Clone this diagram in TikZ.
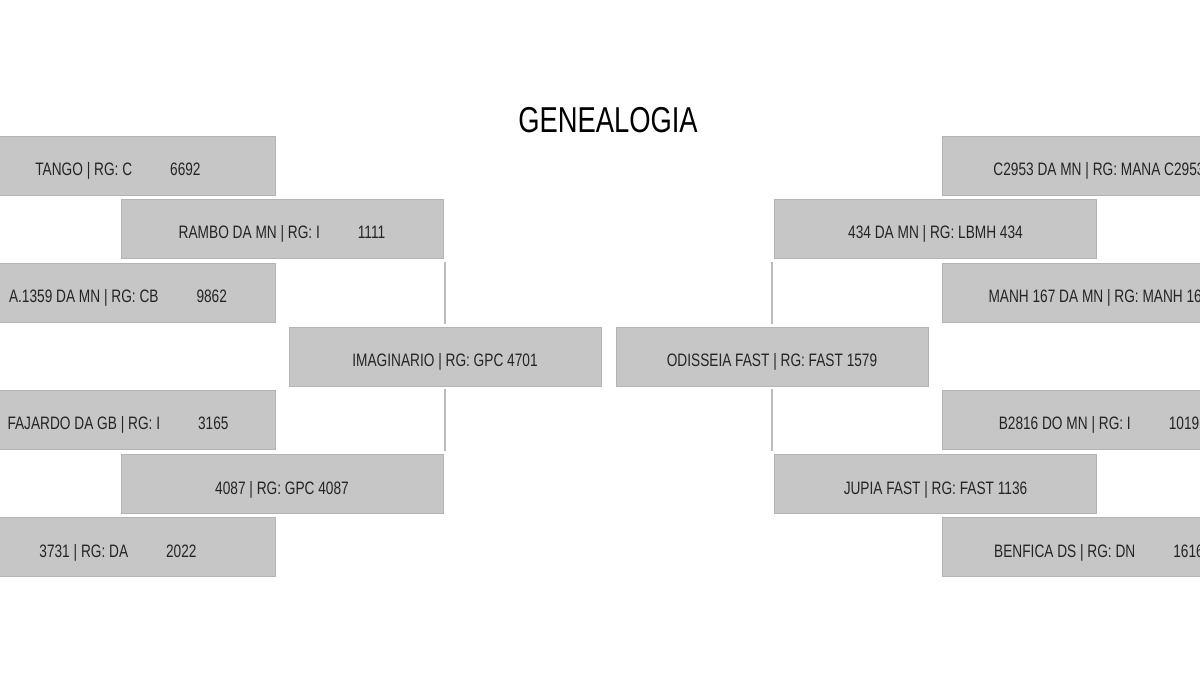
\documentclass[tikz,border=0pt]{standalone}
\usepackage{fontspec}
\setmainfont{Liberation Sans}[FakeStretch=0.76]
\definecolor{boxfill}{HTML}{C6C6C6}
\definecolor{boxline}{HTML}{B4B4B4}
\definecolor{txt}{HTML}{242424}
\definecolor{conncol}{HTML}{BBBBBB}
\newcommand{\gapsp}{\hspace{38pt}}
\begin{document}
\begin{tikzpicture}[x=1pt,y=-1pt,
  pbox/.style={rectangle, fill=boxfill, draw=boxline, line width=0.8pt,
    minimum height=59pt, inner sep=0pt, text=txt,
    font=\fontsize{18}{20}\selectfont, text height=20pt, text depth=0pt},
  wa/.style={pbox, minimum width=314pt},
  wb/.style={pbox, minimum width=322pt},
  wc/.style={pbox, minimum width=312pt},
  conn/.style={draw=conncol, line width=1.5pt, shorten <=3pt, shorten >=3pt},
  title/.style={font=\fontsize{36}{40}\selectfont, text=black, inner sep=0pt}]
\clip (0,0) rectangle (1200,700);
\fill[white] (0,0) rectangle (1200,700);

\node[title] (ttl) at (608,120) {GENEALOGIA};

% left side
\node[wa] (tango)   at (118,165.5) {TANGO | RG: C\gapsp 6692};
\node[wb] (rambo)   at (282,229)   {RAMBO DA MN | RG: I\gapsp 1111};
\node[wa] (a1359)   at (118,293)   {A.1359 DA MN | RG: CB\gapsp 9862};
\node[wc] (imag)    at (445,356.5) {IMAGINARIO | RG: GPC 4701};
\node[wa] (fajardo) at (118,420)   {FAJARDO DA GB | RG: I\gapsp 3165};
\node[wb] (d4087)   at (282,484)   {4087 | RG: GPC 4087};
\node[wa] (d3731)   at (118,547)   {3731 | RG: DA\gapsp 2022};

% right side
\node[wa] (c2953)   at (1099,165.5) {C2953 DA MN | RG: MANA C2953};
\node[wb] (d434)    at (935.5,229)  {434 DA MN | RG: LBMH 434};
\node[wa] (manh)    at (1099,293)   {MANH 167 DA MN | RG: MANH 167};
\node[wc] (odis)    at (772,356.5)  {ODISSEIA FAST | RG: FAST 1579};
\node[wa] (b2816)   at (1099,420)   {B2816 DO MN | RG: I\gapsp 1019};
\node[wb] (jupia)   at (935.5,484)  {JUPIA FAST | RG: FAST 1136};
\node[wa] (benfica) at (1099,547)   {BENFICA DS | RG: DN\gapsp 1616};

% connectors
\draw[conn] (imag.north) -- (imag.north |- rambo.south);
\draw[conn] (imag.south) -- (imag.south |- d4087.north);
\draw[conn] (odis.north) -- (odis.north |- d434.south);
\draw[conn] (odis.south) -- (odis.south |- jupia.north);
\end{tikzpicture}
\end{document}
